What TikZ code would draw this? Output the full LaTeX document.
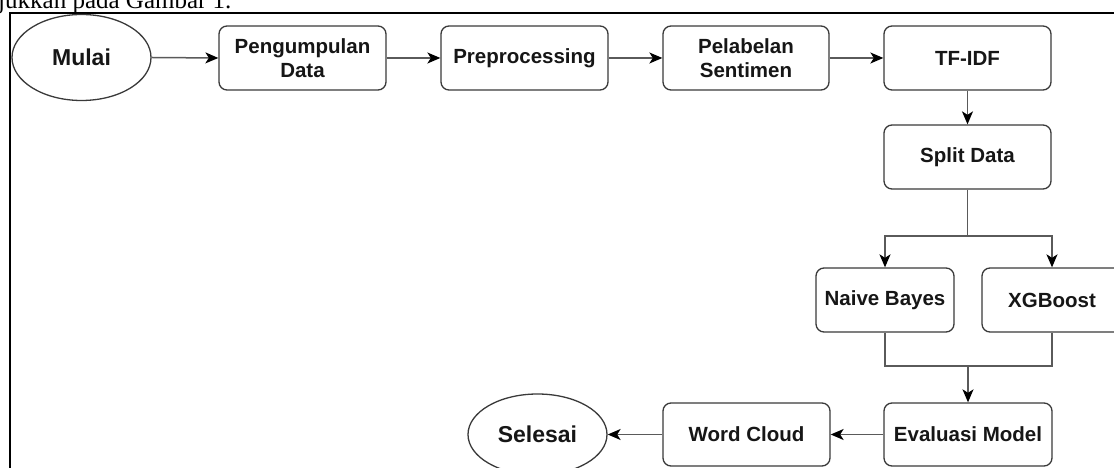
\documentclass[tikz,border=0pt]{standalone}
\usepackage{fontspec}
\setmainfont{Liberation Serif}
\newfontfamily\arialf{Liberation Sans}
\usetikzlibrary{shapes.geometric,arrows.meta}
\definecolor{boxline}{HTML}{3A3A3A}
\definecolor{conn}{HTML}{5A5A5A}
\definecolor{txt}{HTML}{161616}
\tikzset{
  x=1pt,y=1pt,
  procbox/.style={draw=boxline,line width=1.3pt,rounded corners=8pt,fill=white,
    minimum width=167pt,minimum height=64pt,inner sep=0pt,align=center,
    text=txt,font=\arialf\bfseries\fontsize{20.5}{24}\selectfont},
  termnode/.style={ellipse,draw=boxline,line width=1.3pt,fill=white,
    minimum width=139pt,minimum height=86pt,inner sep=0pt,
    text=txt,font=\arialf\bfseries\fontsize{23}{26}\selectfont},
  conn/.style={draw=conn,line width=1.5pt,-{Stealth[length=13pt,width=11pt,inset=3.5pt,color=black]}},
  plain/.style={draw=conn,line width=1.5pt}
}
\begin{document}
\begin{tikzpicture}
\useasboundingbox (0,0) rectangle (1114,468);
\clip (0,0) rectangle (1114,468);
% partial caption text above the frame
\node[anchor=base west,inner sep=0pt,font=\fontsize{25}{27}\selectfont] (cap) at (-2,459) {jukkan pada Gambar 1.};
% frame
\draw[line width=2.2pt] (10,-10) -- (10,455) -- (1130,455);
% nodes
\node[termnode] (mulai) at (81.5,410.5) {Mulai};
\node[procbox] (pd) at (302.5,410) {Pengumpulan\\Data};
\node[procbox] (pre) at (524.5,410) {Preprocessing};
\node[procbox,minimum width=166pt] (pel) at (746,410) {Pelabelan\\Sentimen};
\node[procbox] (tf) at (967.5,410) {TF-IDF};
\node[procbox] (split) at (967.5,311) {Split Data};
\node[procbox,minimum width=138pt] (nb) at (885,168) {Naive Bayes};
\node[procbox,minimum width=140pt] (xgb) at (1052,168) {XGBoost};
\node[procbox,minimum height=63pt,minimum width=168pt] (ev) at (968,33.5) {Evaluasi Model};
\node[procbox,minimum height=63pt] (wc) at (746.5,33.5) {Word Cloud};
\node[termnode,minimum height=81pt] (sel) at (537.5,33.5) {Selesai};
% connectors
\draw[conn] (mulai.east) -- (pd.west);
\draw[conn] (pd.east) -- (pre.west);
\draw[conn] (pre.east) -- (pel.west);
\draw[conn] (pel.east) -- (tf.west);
\draw[conn] (tf.south) -- (split.north);
\coordinate (sp) at (967.5,232);
\draw[plain] (split.south) -- (sp);
\draw[conn] (sp) -| (nb.north);
\draw[conn] (sp) -| (xgb.north);
\coordinate (mg) at (968,102);
\draw[plain] (nb.south) |- (mg);
\draw[plain] (xgb.south) |- (mg);
\draw[conn] (mg) -- (ev.north);
\draw[conn] (ev.west) -- (wc.east);
\draw[conn] (wc.west) -- (sel.east);
\end{tikzpicture}
\end{document}
